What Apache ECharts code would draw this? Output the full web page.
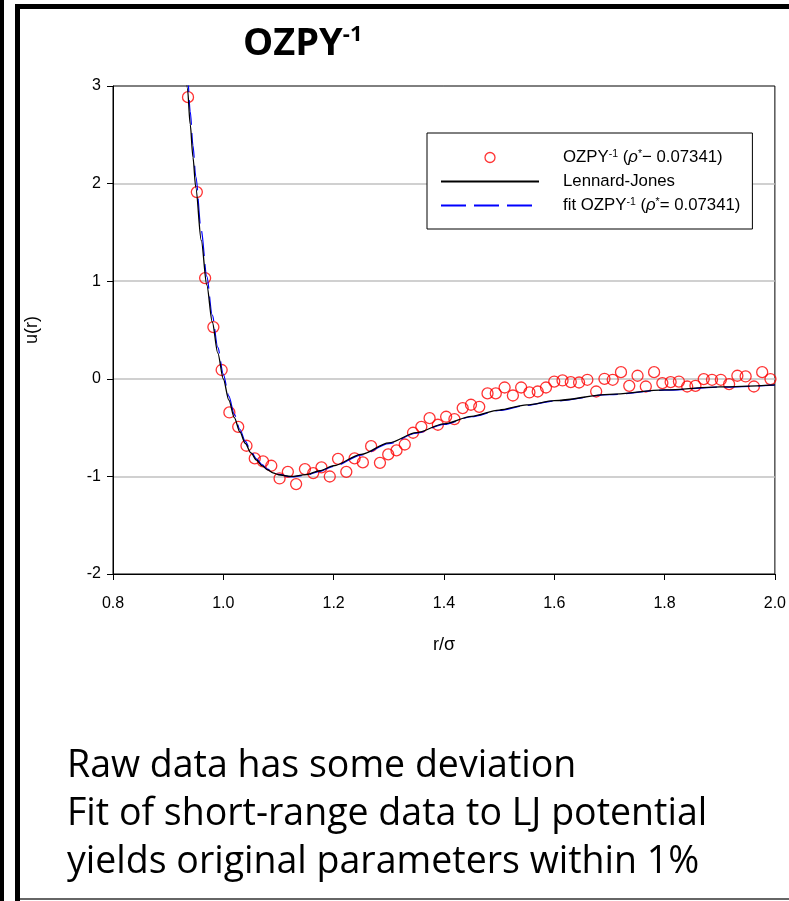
<!DOCTYPE html>
<html><head><meta charset="utf-8">
<script src="https://cdn.jsdelivr.net/npm/echarts@6/dist/echarts.min.js"></script>
<style>html,body{margin:0;padding:0;background:#fff}#c{width:789px;height:901px}</style>
</head><body><div id="c"></div>
<script>
// ---- data ----
const xTickLabels = ['0.8','1.0','1.2','1.4','1.6','1.8','2.0'];
const yTickLabels = ['-2','-1','0','1','2','3'];

// r/sigma grid for the two curves
const curveR = [0.93,0.935,0.94,0.945,0.95,0.96,0.97,0.98,0.99,1.00,1.01,1.02,1.03,1.04,1.05,1.06,1.07,1.08,1.09,1.10,1.1225,1.15,1.175,1.20,1.25,1.30,1.35,1.40,1.45,1.50,1.55,1.60,1.70,1.80,1.90,2.00];
// Lennard-Jones (black solid)
const ljU = [3.373,2.974,2.607,2.270,1.961,1.418,0.963,0.582,0.264,0.000,-0.218,-0.398,-0.544,-0.663,-0.758,-0.832,-0.889,-0.932,-0.963,-0.983,-1.000,-0.982,-0.942,-0.891,-0.774,-0.657,-0.552,-0.461,-0.384,-0.320,-0.268,-0.224,-0.159,-0.114,-0.083,-0.062];
// fit OZPY^-1 (blue dashed)
const fitU = [3.53,3.12,2.74,2.39,2.075,1.52,1.05,0.652,0.322,0.048,-0.178,-0.365,-0.517,-0.642,-0.741,-0.819,-0.879,-0.925,-0.958,-0.980,-1.005,-0.988,-0.948,-0.897,-0.781,-0.664,-0.558,-0.467,-0.389,-0.325,-0.272,-0.228,-0.162,-0.117,-0.086,-0.064];

// raw OZPY^-1 points (red circles)
const rawR = [0.936,0.952,0.967,0.982,0.997,1.011,1.027,1.042,1.057,1.072,1.087,1.102,1.117,1.132,1.148,1.163,1.178,1.193,1.208,1.223,1.238,1.253,1.268,1.284,1.299,1.314,1.329,1.344,1.359,1.374,1.389,1.404,1.419,1.434,1.449,1.464,1.479,1.494,1.510,1.525,1.540,1.555,1.570,1.585,1.600,1.615,1.630,1.645,1.660,1.676,1.691,1.706,1.721,1.736,1.751,1.766,1.781,1.796,1.811,1.826,1.841,1.856,1.871,1.886,1.902,1.917,1.932,1.947,1.962,1.977,1.992];
const rawU = [2.886,1.913,1.032,0.53,0.09,-0.345,-0.492,-0.686,-0.816,-0.847,-0.891,-1.021,-0.953,-1.079,-0.925,-0.966,-0.908,-1.001,-0.82,-0.953,-0.816,-0.857,-0.69,-0.861,-0.775,-0.734,-0.673,-0.553,-0.492,-0.403,-0.471,-0.389,-0.413,-0.30,-0.266,-0.287,-0.15,-0.15,-0.089,-0.171,-0.089,-0.14,-0.13,-0.089,-0.028,-0.017,-0.034,-0.038,-0.01,-0.13,0.0,-0.01,0.068,-0.072,0.031,-0.079,0.068,-0.044,-0.034,-0.028,-0.079,-0.072,-0.003,-0.01,-0.01,-0.055,0.031,0.024,-0.079,0.068,-0.003];

const seriesNames = ['OZPY-1 (ρ* − 0.07341)', 'Lennard-Jones', 'fit OZPY-1 (ρ* = 0.07341)'];
const legendRichText = [
  '{g| }{t|OZPY}{s|-1}{t| (}{i|ρ}{s|*}{t|− 0.07341)}',
  '{g| }{t|Lennard-Jones}',
  '{g| }{t|fit OZPY}{s|-1}{t| (}{i|ρ}{s|*}{t|= 0.07341)}'
];
const titleMain = 'OZPY';
const titleSup = '-1';
const xName = 'r/σ';
const yName = 'u(r)';
const noteText = 'Raw data has some deviation\nFit of short-range data to LJ potential\nyields original parameters within 1%';

// ---- chart ----
const chart = echarts.init(document.getElementById('c'), null, {renderer: 'canvas'});
const axisFont = 'Liberation Sans, Arial, sans-serif';
const hiddenSymbol = {color: 'none', borderWidth: 0, opacity: 0};

chart.setOption({
  animation: false,
  backgroundColor: '#fff',
  title: {
    text: '{a|' + titleMain + '}{b|' + titleSup + '}',
    left: 238, top: 19,
    textStyle: {
      rich: {
        a: {fontFamily: 'Open Sans', fontWeight: 'bold', fontSize: 38, lineHeight: 40, color: '#000'},
        b: {fontFamily: 'Open Sans', fontWeight: 'bold', fontSize: 22, lineHeight: 24, verticalAlign: 'top', color: '#000'}
      }
    }
  },
  grid: {left: 113, right: 12, top: 86, bottom: 327, show: true, borderColor: '#000', borderWidth: 1, backgroundColor: 'transparent'},
  legend: {
    left: 427, top: 133,
    orient: 'vertical',
    padding: [16, 12, 15, 13],
    itemGap: 7,
    itemWidth: 98, itemHeight: 10,
    borderColor: '#000', borderWidth: 1,
    backgroundColor: '#fff',
    data: [
      {name: seriesNames[0], itemStyle: {borderWidth: 1.3, borderColor: '#ff0000', color: 'none'}},
      {name: seriesNames[1], itemStyle: hiddenSymbol},
      {name: seriesNames[2], itemStyle: hiddenSymbol}
    ],
    formatter: function (name) { return legendRichText[seriesNames.indexOf(name)]; },
    textStyle: {
      color: '#000',
      rich: {
        g: {width: 19},
        t: {fontFamily: axisFont, fontSize: 16.8, lineHeight: 17, color: '#000'},
        i: {fontFamily: axisFont, fontSize: 16.8, lineHeight: 17, fontStyle: 'italic', color: '#000'},
        s: {fontFamily: axisFont, fontSize: 10.5, lineHeight: 11, verticalAlign: 'top', color: '#000'}
      }
    }
  },
  xAxis: {
    type: 'value', min: 0.8, max: 2.0, interval: 0.2,
    name: xName, nameLocation: 'middle', nameGap: 62,
    nameTextStyle: {fontFamily: axisFont, fontSize: 18, color: '#000'},
    axisLine: {show: true, onZero: false, lineStyle: {color: '#000', width: 1}},
    axisTick: {show: true, length: 6, lineStyle: {color: '#000', width: 1}},
    axisLabel: {margin: 22, fontFamily: axisFont, fontSize: 16, color: '#000',
      formatter: function (v) { return xTickLabels[Math.round((v - 0.8) / 0.2)]; }},
    splitLine: {show: false}
  },
  yAxis: {
    type: 'value', min: -2, max: 3, interval: 1,
    name: yName, nameLocation: 'middle', nameGap: 72,
    nameTextStyle: {fontFamily: axisFont, fontSize: 18, color: '#000'},
    axisLine: {show: true, lineStyle: {color: '#000', width: 1}},
    axisTick: {show: true, length: 6, lineStyle: {color: '#000', width: 1}},
    axisLabel: {margin: 12, fontFamily: axisFont, fontSize: 16, color: '#000',
      formatter: function (v) { return yTickLabels[Math.round(v + 2)]; }},
    splitLine: {show: true, showMinLine: false, showMaxLine: false, lineStyle: {color: '#c0c0c0', width: 1.5}}
  },
  series: [
    {
      name: seriesNames[0], type: 'scatter',
      data: rawR.map((r, i) => [r, rawU[i]]),
      symbol: 'circle', symbolSize: 11,
      itemStyle: {color: 'none', borderColor: '#ff0000', borderWidth: 1.3},
      z: 2
    },
    {
      name: seriesNames[2], type: 'line',
      data: curveR.map((r, i) => [r, fitU[i]]),
      symbol: 'none', showSymbol: false, smooth: 0.3, smoothMonotone: 'x', clip: true,
      lineStyle: {color: '#0000ff', width: 1.2, type: [25, 8]},
      itemStyle: {color: '#0000ff'},
      z: 3
    },
    {
      name: seriesNames[1], type: 'line',
      data: curveR.map((r, i) => [r, ljU[i]]),
      symbol: 'none', showSymbol: false, smooth: 0.3, smoothMonotone: 'x', clip: true,
      lineStyle: {color: '#000', width: 1.3},
      itemStyle: {color: '#000'},
      z: 4
    }
  ],
  graphic: [
    {type: 'rect', shape: {x: 0, y: 0, width: 4, height: 901}, style: {fill: '#000'}},
    {type: 'rect', shape: {x: 15, y: 4, width: 5, height: 897}, style: {fill: '#000'}},
    {type: 'rect', shape: {x: 15, y: 4, width: 774, height: 5}, style: {fill: '#000'}},
    {type: 'rect', shape: {x: 20, y: 898, width: 769, height: 2}, style: {fill: '#666'}},
    {type: 'rect', shape: {x: 786, y: 588, width: 3, height: 30}, style: {fill: '#fff'}, z: 100},
    {type: 'text', left: 67, top: 742, z: 100,
      style: {text: noteText, fontFamily: 'Open Sans', fontSize: 37.5, lineHeight: 48, fill: '#000'}}
  ]
});
</script>
</body></html>
